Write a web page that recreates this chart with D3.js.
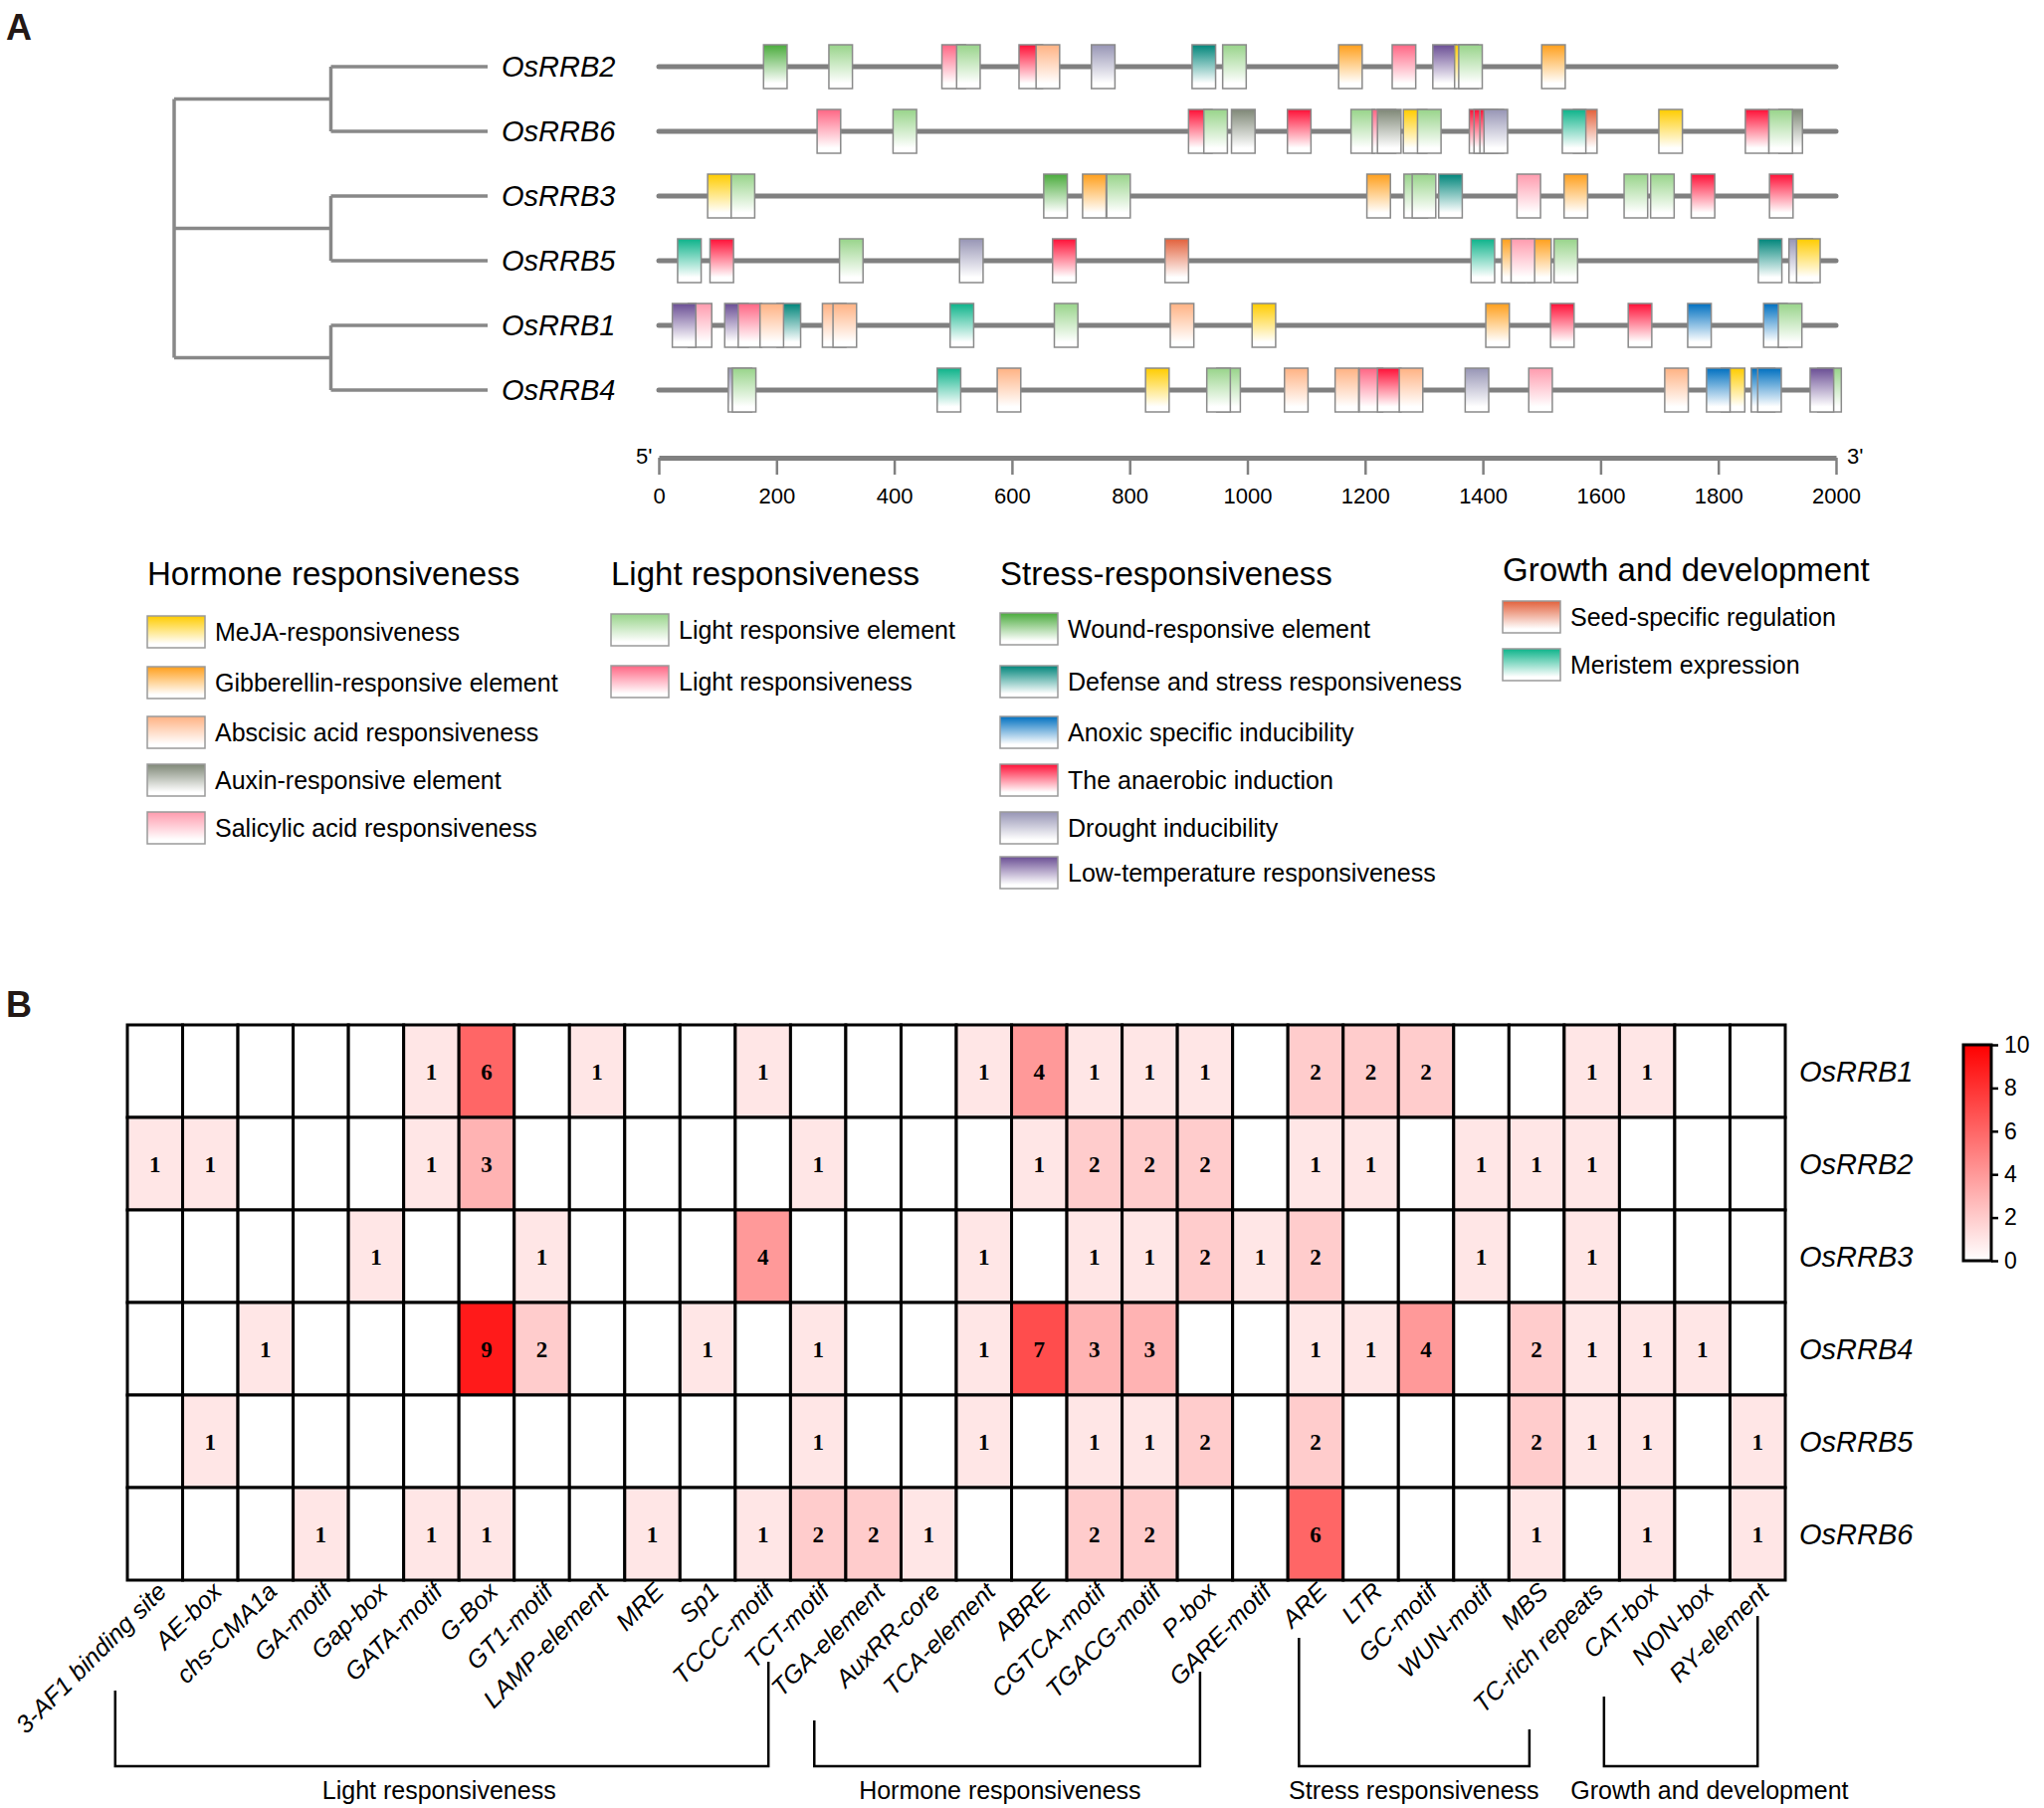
<!DOCTYPE html>
<html>
<head>
<meta charset="utf-8">
<script src="https://cdn.jsdelivr.net/npm/d3@7"></script>
<style>
  body { margin: 0; background: #fff; }
  text { font-family: "Liberation Sans", Arial, sans-serif; }
</style>
</head>
<body>
<svg id="fig" width="2054" height="1817"></svg>
<script>
// ---- panel A data ----
var genes = ["OsRRB2", "OsRRB6", "OsRRB3", "OsRRB5", "OsRRB1", "OsRRB4"];
var treeData = {children: [
  {children: [{name: "OsRRB2"}, {name: "OsRRB6"}]},
  {children: [{name: "OsRRB3"}, {name: "OsRRB5"}]},
  {children: [{name: "OsRRB1"}, {name: "OsRRB4"}]}
]};
var axisTicks = [0, 200, 400, 600, 800, 1000, 1200, 1400, 1600, 1800, 2000];
var promoterLength = 2000;
var siteLength = 40;

// cis-element start positions (bp), listed in drawing order
var sitesRRB2 = [[178,"Wound"],[289,"LRE"],[481,"LR"],[506,"LRE"],[612,"Anaerobic"],[641,"ABA"],[735,"Drought"],
  [906,"Defense"],[958,"LRE"],[1155,"GA"],[1246,"LR"],[1315,"LowTemp"],[1352,"MeJA"],[1359,"LRE"],[1500,"GA"]];
var sitesRRB6 = [[269,"LR"],[398,"LRE"],[900,"Anaerobic"],[926,"LRE"],[973,"Auxin"],[1068,"Anaerobic"],[1176,"LRE"],
  [1212,"LR"],[1221,"Auxin"],[1265,"MeJA"],[1289,"LRE"],[1377,"Anaerobic"],[1385,"Anaerobic"],[1395,"Anaerobic"],
  [1402,"Drought"],[1554,"Seed"],[1535,"Meristem"],[1699,"MeJA"],[1846,"Anaerobic"],[1903,"Auxin"],[1886,"LRE"]];
var sitesRRB3 = [[83,"MeJA"],[123,"LRE"],[654,"Wound"],[720,"GA"],[761,"LRE"],[1203,"GA"],[1266,"LRE"],[1280,"LRE"],
  [1325,"Defense"],[1458,"SA"],[1538,"GA"],[1640,"LRE"],[1685,"LRE"],[1754,"Anaerobic"],[1887,"Anaerobic"]];
var sitesRRB5 = [[32,"Meristem"],[87,"Anaerobic"],[307,"LRE"],[511,"Drought"],[669,"Anaerobic"],[860,"Seed"],
  [1380,"Meristem"],[1432,"GA"],[1476,"GA"],[1448,"SA"],[1521,"LRE"],[1868,"Defense"],[1920,"Drought"],[1933,"MeJA"]];
var sitesRRB1 = [[50,"SA"],[23,"LowTemp"],[112,"LowTemp"],[135,"LR"],[201,"Defense"],[172,"ABA"],[278,"ABA"],[296,"ABA"],
  [495,"Meristem"],[672,"LRE"],[869,"ABA"],[1008,"MeJA"],[1405,"GA"],[1515,"Anaerobic"],[1647,"Anaerobic"],
  [1748,"Anoxic"],[1877,"Anoxic"],[1902,"LRE"]];
var sitesRRB4 = [[118,"Drought"],[125,"LRE"],[473,"Meristem"],[575,"ABA"],[827,"MeJA"],[948,"LRE"],[931,"LRE"],
  [1063,"ABA"],[1149,"ABA"],[1190,"LR"],[1221,"Anaerobic"],[1258,"ABA"],[1370,"Drought"],[1478,"SA"],[1709,"ABA"],
  [1805,"MeJA"],[1780,"Anoxic"],[1856,"Anoxic"],[1867,"Anoxic"],[1969,"LRE"],[1956,"LowTemp"]];
var sitesByGene = {OsRRB2: sitesRRB2, OsRRB6: sitesRRB6, OsRRB3: sitesRRB3, OsRRB5: sitesRRB5, OsRRB1: sitesRRB1, OsRRB4: sitesRRB4};

var siteLabels = {
  MeJA: "MeJA-responsiveness", GA: "Gibberellin-responsive element", ABA: "Abscisic acid responsiveness",
  Auxin: "Auxin-responsive element", SA: "Salicylic acid responsiveness",
  LRE: "Light responsive element", LR: "Light responsiveness",
  Wound: "Wound-responsive element", Defense: "Defense and stress responsiveness", Anoxic: "Anoxic specific inducibility",
  Anaerobic: "The anaerobic induction", Drought: "Drought inducibility", LowTemp: "Low-temperature responsiveness",
  Seed: "Seed-specific regulation", Meristem: "Meristem expression"
};
var hormoneKeys = ["MeJA", "GA", "ABA", "Auxin", "SA"];
var lightKeys = ["LRE", "LR"];
var stressKeys = ["Wound", "Defense", "Anoxic", "Anaerobic", "Drought", "LowTemp"];
var growthKeys = ["Seed", "Meristem"];

// ---- panel B data ----
var motifs = ["3-AF1 binding site","AE-box","chs-CMA1a","GA-motif","Gap-box","GATA-motif","G-Box","GT1-motif",
  "LAMP-element","MRE","Sp1","TCCC-motif","TCT-motif","TGA-element","AuxRR-core","TCA-element","ABRE",
  "CGTCA-motif","TGACG-motif","P-box","GARE-motif","ARE","LTR","GC-motif","WUN-motif","MBS","TC-rich repeats",
  "CAT-box","NON-box","RY-element"];
var hmGenes = ["OsRRB1", "OsRRB2", "OsRRB3", "OsRRB4", "OsRRB5", "OsRRB6"];
var countRRB1 = [0,0,0,0,0,1,6,0,1,0,0,1,0,0,0,1,4,1,1,1,0,2,2,2,0,0,1,1,0,0];
var countRRB2 = [1,1,0,0,0,1,3,0,0,0,0,0,1,0,0,0,1,2,2,2,0,1,1,0,1,1,1,0,0,0];
var countRRB3 = [0,0,0,0,1,0,0,1,0,0,0,4,0,0,0,1,0,1,1,2,1,2,0,0,1,0,1,0,0,0];
var countRRB4 = [0,0,1,0,0,0,9,2,0,0,1,0,1,0,0,1,7,3,3,0,0,1,1,4,0,2,1,1,1,0];
var countRRB5 = [0,1,0,0,0,0,0,0,0,0,0,0,1,0,0,1,0,1,1,2,0,2,0,0,0,2,1,1,0,1];
var countRRB6 = [0,0,0,1,0,1,1,0,0,1,0,1,2,2,1,0,0,2,2,0,0,6,0,0,0,1,0,1,0,1];
var counts = [countRRB1, countRRB2, countRRB3, countRRB4, countRRB5, countRRB6];
var colorTicks = [0, 2, 4, 6, 8, 10];
// brackets in column units from the grid's left edge
var groupNames = ["Light responsiveness", "Hormone responsiveness", "Stress responsiveness", "Growth and development"];
var groupFrom = [-0.22, 12.43, 21.2, 26.72];
var groupTo = [11.6, 19.41, 25.37, 29.5];
var groupLabelAt = [5.64, 15.79, 23.28, 28.63];

// ---- styles ----
var siteColors = {
  MeJA: "#ffcc00", GA: "#ff9f1c", ABA: "#ffb283", Auxin: "#7f8877", SA: "#ff9bae",
  LRE: "#98d48a", LR: "#ff6684", Wound: "#4aab3c", Defense: "#00857a", Anoxic: "#0070c0",
  Anaerobic: "#ff1037", Drought: "#9795b5", LowTemp: "#6a4e94", Seed: "#e2613c", Meristem: "#0db38a"
};
var lineGray = "#808080";

var svg = d3.select("#fig");
svg.append("rect").attr("width", 2054).attr("height", 1817).attr("fill", "#fff");
var defs = svg.append("defs");
Object.keys(siteColors).forEach(function(k) {
    var g = defs.append("linearGradient").attr("id", "grad-" + k)
      .attr("x1", 0).attr("y1", 0).attr("x2", 0).attr("y2", 1);
    g.append("stop").attr("offset", "0%").attr("stop-color", siteColors[k]);
    g.append("stop").attr("offset", "88%").attr("stop-color", "#fff");
});

function panelLabel(t, y) {
    svg.append("text").attr("x", 6).attr("y", y).text(t)
      .style("font-size", "36px").style("font-weight", "bold").attr("fill", "#231815");
}
panelLabel("A", 40);
panelLabel("B", 1022);

// ---- tree ----
var yRow = d3.scalePoint().domain(genes).range([67, 392]);
var xDepth = d3.scaleLinear().domain([0, 2]).range([175, 490]);
var root = d3.hierarchy(treeData);
root.eachAfter(function(n) {
    n.px = xDepth(n.depth);
    n.py = n.children ? d3.mean(n.children, function(c) { return c.py; }) : yRow(n.data.name);
});
var treeG = svg.append("g").attr("stroke", "#888").attr("stroke-width", 3.5).attr("fill", "none");
root.descendants().filter(function(n) { return n.children; }).forEach(function(n) {
    var ys = n.children.map(function(c) { return c.py; });
    treeG.append("line").attr("x1", n.px).attr("x2", n.px)
      .attr("y1", d3.min(ys)).attr("y2", d3.max(ys));
    n.children.forEach(function(c) {
        treeG.append("line").attr("x1", n.px).attr("x2", c.px).attr("y1", c.py).attr("y2", c.py);
    });
});

// ---- promoter lines and elements ----
var bp = d3.scaleLinear().domain([0, promoterLength]).range([662, 1845]);
genes.forEach(function(gname) {
    var y = yRow(gname);
    svg.append("text").attr("x", 504).attr("y", y + 10).text(gname)
      .style("font-size", "29px").style("font-style", "italic");
    svg.append("line").attr("x1", bp(0)).attr("x2", bp(promoterLength)).attr("y1", y).attr("y2", y)
      .attr("stroke", lineGray).attr("stroke-width", 5).attr("stroke-linecap", "round");
    svg.append("g").selectAll("rect").data(sitesByGene[gname]).join("rect")
      .attr("x", function(d) { return bp(d[0]); })
      .attr("width", function(d) { return bp(d[0] + siteLength) - bp(d[0]); })
      .attr("y", y - 22).attr("height", 44)
      .attr("fill", function(d) { return "url(#grad-" + d[1] + ")"; })
      .attr("stroke", "#8a8a8a").attr("stroke-width", 1.5);
});

var axG = svg.append("g").attr("transform", "translate(0,460)")
  .call(d3.axisBottom(bp).tickValues(axisTicks).tickFormat(d3.format("d"))
    .tickSize(17).tickSizeOuter(0).tickPadding(13));
axG.select(".domain").attr("stroke", lineGray).attr("stroke-width", 5);
axG.selectAll(".tick line").attr("stroke", lineGray).attr("stroke-width", 2.5);
axG.selectAll(".tick text").attr("fill", "#000").style("font-size", "22px")
  .style("font-family", "'Liberation Sans', Arial, sans-serif");
svg.append("text").attr("x", 639).attr("y", 466).text("5'").style("font-size", "22px");
svg.append("text").attr("x", 1856).attr("y", 466).text("3'").style("font-size", "22px");

// ---- legend ----
var legendCols = [
  {title: "Hormone responsiveness", keys: hormoneKeys, x: 148, ty: 588, ys: [635, 686, 736, 784, 832]},
  {title: "Light responsiveness", keys: lightKeys, x: 614, ty: 588, ys: [633, 685]},
  {title: "Stress-responsiveness", keys: stressKeys, x: 1005, ty: 588, ys: [632, 685, 736, 784, 832, 877]},
  {title: "Growth and development", keys: growthKeys, x: 1510, ty: 584, ys: [620, 668]}
];
legendCols.forEach(function(col) {
    var g = svg.append("g");
    g.append("text").attr("x", col.x).attr("y", col.ty).text(col.title).style("font-size", "33px");
    col.keys.forEach(function(k, i) {
        var cy = col.ys[i];
        g.append("rect").attr("x", col.x).attr("y", cy - 16).attr("width", 58).attr("height", 32)
          .attr("fill", "url(#grad-" + k + ")").attr("stroke", "#9a9a9a").attr("stroke-width", 1.5);
        g.append("text").attr("x", col.x + 68).attr("y", cy + 9).text(siteLabels[k]).style("font-size", "25px");
    });
});

// ---- heatmap ----
var xCol = d3.scaleBand().domain(motifs).range([128, 1794]);
var yHm = d3.scaleBand().domain(hmGenes).range([1030, 1588]);
var heat = d3.scaleLinear().domain([0, 10]).range(["#ffffff", "#ff0000"]);
var cells = [];
hmGenes.forEach(function(gname, r) {
    motifs.forEach(function(m, c) { cells.push({gene: gname, motif: m, v: counts[r][c]}); });
});
var hm = svg.append("g");
hm.selectAll("rect").data(cells).join("rect")
  .attr("x", function(d) { return xCol(d.motif); })
  .attr("y", function(d) { return yHm(d.gene); })
  .attr("width", xCol.bandwidth()).attr("height", yHm.bandwidth())
  .attr("fill", function(d) { return heat(d.v); })
  .attr("stroke", "#000").attr("stroke-width", 3);
hm.selectAll("text.val").data(cells.filter(function(d) { return d.v > 0; })).join("text")
  .attr("class", "val")
  .attr("x", function(d) { return xCol(d.motif) + xCol.bandwidth() / 2; })
  .attr("y", function(d) { return yHm(d.gene) + yHm.bandwidth() / 2 + 8; })
  .attr("text-anchor", "middle")
  .style("font-family", "'Liberation Serif', 'Times New Roman', serif")
  .style("font-weight", "bold").style("font-size", "23px")
  .text(function(d) { return d.v; });

hmGenes.forEach(function(gname) {
    svg.append("text").attr("x", 1808).attr("y", yHm(gname) + yHm.bandwidth() / 2 + 10).text(gname)
      .style("font-size", "29px").style("font-style", "italic");
});

var bottom = 1588;
svg.append("g").selectAll("text").data(motifs).join("text")
  .attr("transform", function(d) {
      return "translate(" + (xCol(d) + xCol.bandwidth() / 2 + 13) + "," + (bottom + 13) + ") rotate(-45)";
  })
  .attr("text-anchor", "end").style("font-size", "25px").style("font-style", "italic")
  .text(function(d) { return d; });

// group brackets
var colW = xCol.bandwidth();
var bracketTops = [[1699, 1670], [1729, 1680], [1646, 1738], [1705, 1624]];
groupNames.forEach(function(name, i) {
    var xa = 128 + groupFrom[i] * colW, xb = 128 + groupTo[i] * colW;
    svg.append("path")
      .attr("d", "M" + xa + "," + bracketTops[i][0] + "V1775H" + xb + "V" + bracketTops[i][1])
      .attr("fill", "none").attr("stroke", "#000").attr("stroke-width", 2.5);
    svg.append("text").attr("x", 128 + groupLabelAt[i] * colW).attr("y", 1808)
      .attr("text-anchor", "middle").style("font-size", "25px").text(name);
});

// colour bar
var cbScale = d3.scaleLinear().domain([0, 10]).range([1267, 1050]);
var cbGrad = defs.append("linearGradient").attr("id", "cbar")
  .attr("x1", 0).attr("y1", 1).attr("x2", 0).attr("y2", 0);
colorTicks.forEach(function(t) {
    cbGrad.append("stop").attr("offset", (t / 10 * 100) + "%").attr("stop-color", heat(t));
});
svg.append("rect").attr("x", 1973).attr("y", cbScale(10)).attr("width", 28)
  .attr("height", cbScale(0) - cbScale(10))
  .attr("fill", "url(#cbar)").attr("stroke", "#000").attr("stroke-width", 3);
var cbAx = svg.append("g").attr("transform", "translate(2001,0)")
  .call(d3.axisRight(cbScale).tickValues(colorTicks).tickSize(7).tickSizeOuter(0).tickPadding(6));
cbAx.select(".domain").remove();
cbAx.selectAll(".tick line").attr("stroke", "#000").attr("stroke-width", 2.5);
cbAx.selectAll(".tick text").attr("fill", "#000").style("font-size", "23px")
  .style("font-family", "'Liberation Sans', Arial, sans-serif");
</script>
</body>
</html>
